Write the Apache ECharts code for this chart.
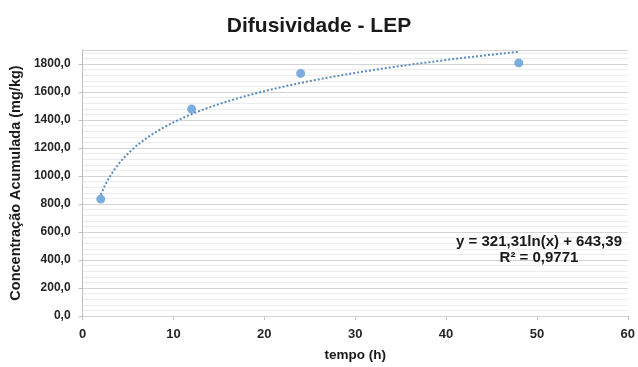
<!DOCTYPE html>
<html>
<head>
<meta charset="utf-8">
<script src="https://cdn.jsdelivr.net/npm/echarts@6/dist/echarts.min.js"></script>
<style>
  html, body { margin: 0; padding: 0; background: #fff; }
  #chart { width: 638px; height: 367px; }
</style>
</head>
<body>
<div id="chart"></div>
<script>
// Measured points
const tempoH = [2, 12, 24, 48];
const concentracao = [835, 1478, 1733, 1808];

// Logarithmic trendline: y = a*ln(x) + b
const trendCoef = [321.31, 643.39];
const trendLabel = ['y = 321,31ln(x) + 643,39', 'R² = 0,9771'];

// Axis settings
const xTicks = [0, 10, 20, 30, 40, 50, 60];
const yTickStep = 200;
const yMax = 1900;

const trendPts = [];
const x0 = tempoH[0], x1 = tempoH[tempoH.length - 1];
for (let i = 0; i <= 120; i++) {
  const x = x0 + (x1 - x0) * i / 120;
  trendPts.push([x, trendCoef[0] * Math.log(x) + trendCoef[1]]);
}

const fmtNum = v => v.toFixed(1).replace('.', ',');
const FONT = 'Liberation Sans, Arial, sans-serif';

const chart = echarts.init(document.getElementById('chart'), null, { renderer: 'canvas' });
chart.setOption({
  animation: false,
  backgroundColor: '#ffffff',
  title: {
    text: 'Difusividade - LEP',
    left: 'center',
    top: 11,
    textStyle: { fontFamily: FONT, fontSize: 21, fontWeight: 'bold', color: '#1a1a1a' }
  },
  grid: { left: 80, right: 8, top: 50, bottom: 46, containLabel: false },
  xAxis: {
    type: 'value',
    min: xTicks[0],
    max: xTicks[xTicks.length - 1],
    interval: xTicks[1] - xTicks[0],
    name: 'tempo (h)',
    nameLocation: 'middle',
    nameGap: 32,
    nameTextStyle: { fontFamily: FONT, fontSize: 13.5, fontWeight: 'bold', color: '#1a1a1a' },
    axisLine: { show: true, lineStyle: { color: '#bfbfbf', width: 1 } },
    axisTick: { show: true, length: 4, lineStyle: { color: '#bfbfbf' } },
    axisLabel: { fontFamily: FONT, fontSize: 13, fontWeight: 'bold', color: '#262626', margin: 12 },
    splitLine: { show: false }
  },
  yAxis: [
    {
      type: 'value',
      min: 0,
      max: yMax,
      interval: yTickStep,
      z: 2,
      name: 'Concentração Acumulada (mg/kg)',
      nameLocation: 'middle',
      nameGap: 57,
      nameTextStyle: { fontFamily: FONT, fontSize: 14.5, fontWeight: 'bold', color: '#1a1a1a' },
      axisLine: { show: true, lineStyle: { color: '#bfbfbf', width: 1 } },
      axisTick: { show: true, length: 4, lineStyle: { color: '#bfbfbf' } },
      axisLabel: {
        fontFamily: FONT, fontSize: 12, fontWeight: 'bold', color: '#262626', margin: 12,
        showMaxLabel: false,
        formatter: v => fmtNum(v)
      },
      splitLine: { show: true, lineStyle: { color: '#d4d4d4', width: 1 } }
    },
    {
      // minor gridlines
      type: 'value',
      min: 0,
      max: yMax,
      interval: yTickStep / 5,
      z: 0,
      axisLine: { show: false },
      axisTick: { show: false },
      axisLabel: { show: false },
      splitLine: { show: true, lineStyle: { color: '#ececec', width: 1 } }
    }
  ],
  series: [
    {
      name: 'tendência',
      type: 'line',
      data: trendPts,
      showSymbol: false,
      smooth: false,
      lineStyle: { color: '#5b8bc0', width: 2, type: [2, 2] },
      z: 2
    },
    {
      name: 'LEP',
      type: 'scatter',
      data: tempoH.map((t, i) => [t, concentracao[i]]),
      symbol: 'circle',
      symbolSize: 9,
      itemStyle: { color: '#5b9bd5' },
      z: 3
    }
  ],
  graphic: [
    {
      type: 'text',
      x: 539,
      y: 234,
      z: 100,
      style: {
        text: trendLabel[0] + '\n' + trendLabel[1],
        font: 'bold 15px ' + FONT,
        fill: '#1a1a1a',
        textAlign: 'center',
        lineHeight: 16
      }
    }
  ]
});
</script>
</body>
</html>
